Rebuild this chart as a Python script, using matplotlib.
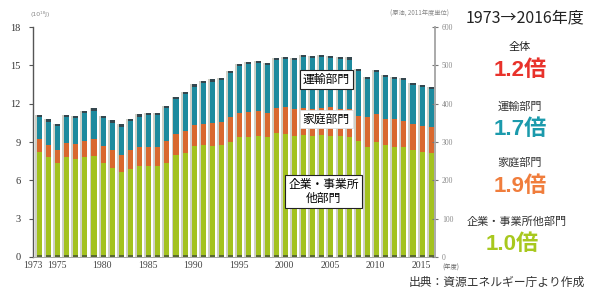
import numpy as np
import matplotlib
matplotlib.use("Agg")
import matplotlib.pyplot as plt
from matplotlib.transforms import ScaledTranslation

years = list(range(1973, 2017))

# stacked tops (10^18 J)
total = [11.10, 10.78, 10.44, 11.15, 11.04, 11.43, 11.64, 11.04, 10.70, 10.39,
         10.83, 11.17, 11.30, 11.30, 11.85, 12.55, 12.95, 13.52, 13.78, 13.91,
         14.04, 14.57, 15.09, 15.25, 15.37, 15.22, 15.61, 15.69, 15.56, 15.80,
         15.74, 15.82, 15.74, 15.69, 15.63, 14.70, 14.12, 14.64, 14.25, 14.12,
         14.04, 13.65, 13.47, 13.30]
home_top = [9.25, 8.77, 8.38, 8.95, 8.82, 9.11, 9.21, 8.69, 8.38, 7.99,
            8.38, 8.59, 8.64, 8.59, 9.08, 9.61, 9.89, 10.34, 10.42, 10.47,
            10.60, 10.94, 11.30, 11.38, 11.46, 11.25, 11.64, 11.72, 11.55, 11.70,
            11.60, 11.70, 11.75, 11.60, 11.55, 11.05, 10.92, 11.20, 10.81, 10.78,
            10.65, 10.39, 10.26, 10.15]
industry = [8.20, 7.81, 7.34, 7.81, 7.67, 7.81, 7.91, 7.39, 6.99, 6.68,
            6.87, 7.15, 7.15, 7.10, 7.39, 7.99, 8.17, 8.69, 8.77, 8.69,
            8.77, 9.03, 9.37, 9.42, 9.50, 9.37, 9.68, 9.60, 9.50, 9.55,
            9.50, 9.55, 9.45, 9.45, 9.40, 9.10, 8.64, 9.03, 8.77, 8.64,
            8.59, 8.38, 8.25, 8.15]

household = [h - i for h, i in zip(home_top, industry)]
transport = [t - h for t, h in zip(total, home_top)]

left_ticks = [0, 3, 6, 9, 12, 15, 18]
right_ticks = [0, 100, 200, 300, 400, 500, 600]
xlabel_years = [1973, 1975, 1980, 1985, 1990, 1995, 2000, 2005, 2010, 2015]

GREEN = "#a3c21f"
ORANGE = "#d9682e"
TEAL = "#1d8a9e"
CAP = "#34474f"
SIDE = "#cfd0c6"

JP = ["Noto Sans CJK JP", "DejaVu Sans"]
NUM = ["Liberation Sans", "Noto Sans CJK JP"]

W, H = 589, 295
fig = plt.figure(figsize=(W / 100, H / 100), dpi=100)
ax = fig.add_axes([33 / W, 1 - 257 / H, (435 - 33) / W, (257 - 27) / H])

x = np.array(years, dtype=float)
ind = np.array(industry)
hh = np.array(household)
tr = np.array(transport)
tot = ind + hh + tr

# grey side strip, then the coloured stack
ax.bar(x - 0.28, tot, width=0.22, color=SIDE, linewidth=0, zorder=1)
ax.bar(x + 0.1, ind, width=0.56, color=GREEN, linewidth=0, zorder=2)
ax.bar(x + 0.1, hh, width=0.56, bottom=ind, color=ORANGE, linewidth=0, zorder=2)
ax.bar(x + 0.1, tr - 0.18, width=0.56, bottom=ind + hh, color=TEAL, linewidth=0, zorder=2)
ax.bar(x + 0.1, 0.18, width=0.56, bottom=tot - 0.18, color=CAP, linewidth=0, zorder=2)
ax.bar(x + 0.1, 0.12, width=0.56, bottom=0, color="#5a6a30", linewidth=0, zorder=3)

ax.set_xlim(1973 - 0.6, 2016 + 0.52)
ax.set_ylim(0, 18)
ax.set_yticks(left_ticks)
ax.set_yticklabels([str(v) for v in left_ticks], family="Liberation Serif",
                   fontsize=7.5, color="#333333")
ax.set_xticks(xlabel_years)
ax.set_xticklabels([str(v) for v in xlabel_years], family="Liberation Serif",
                   fontsize=7, color="#444444")
ax.tick_params(axis="x", length=0, pad=3)
ax.tick_params(axis="y", length=3, width=0.8, color="#555555", pad=6)

# nudge the first year label left so it clears 1975
first = ax.get_xticklabels()[0]
first.set_transform(first.get_transform() + ScaledTranslation(-4 / 72, 0, fig.dpi_scale_trans))

ax.spines["top"].set_visible(False)
ax.spines["left"].set_color("#555555")
ax.spines["left"].set_linewidth(1.0)
ax.spines["bottom"].set_color("#999999")
ax.spines["bottom"].set_linewidth(0.6)
ax.spines["right"].set_color("#aaaaaa")
ax.spines["right"].set_linewidth(1.2)

ax2 = ax.twinx()
ax2.set_ylim(0, 600)
ax2.set_yticks(right_ticks)
ax2.set_yticklabels([str(v) for v in right_ticks], fontsize=5.5, color="#888888",
                    family="Liberation Serif")
ax2.tick_params(axis="y", direction="inout", length=4, width=0.8, color="#777777", pad=3)
for s in ["top", "left", "bottom"]:
    ax2.spines[s].set_visible(False)
ax2.spines["right"].set_color("#aaaaaa")
ax2.spines["right"].set_linewidth(1.2)

# labels inside the plot
box = dict(boxstyle="square,pad=0.25", facecolor="white", edgecolor="#222222", linewidth=0.8)
ax.text(2004.6, 13.9, "運輸部門", family=JP, fontsize=8.5, ha="center", va="center",
        bbox=box, zorder=5)
ax.text(2004.6, 10.8, "家庭部門", family=JP, fontsize=8.5, ha="center", va="center",
        bbox=dict(boxstyle="square,pad=0.25", facecolor="white", edgecolor="#dddddd",
                  linewidth=0.6), zorder=5)
ax.text(2004.3, 5.1, "企業・事業所\n他部門", family=JP, fontsize=8.5, ha="center",
        va="center", linespacing=1.1, bbox=box, zorder=5)

def ftext(px, py, s, **kw):
    fig.text(px / W, 1 - py / H, s, **kw)

ftext(40, 14, "(10¹⁸J)", fontsize=4.5, color="#888888", ha="center", va="center")
ftext(420, 14, "(原油, 2011年度単位)", family=JP, fontsize=4.5, color="#888888",
      ha="center", va="center")
ftext(451, 268, "(年度)", family=JP, fontsize=4.5, color="#666666", ha="center", va="center")

ftext(525, 18, "1973→2016年度", family=JP, fontsize=11.5, color="#222222",
      ha="center", va="center")
ftext(520, 47, "全体", family=JP, fontsize=8, color="#222222", ha="center", va="center")
ftext(520, 70, "1.2倍", family=NUM, fontsize=16, fontweight="bold", color="#e8322b",
      ha="center", va="center")
ftext(520, 107, "運輸部門", family=JP, fontsize=8, color="#333333", ha="center", va="center")
ftext(520, 130, "1.7倍", family=NUM, fontsize=16, fontweight="bold", color="#1b9aac",
      ha="center", va="center")
ftext(520, 163, "家庭部門", family=JP, fontsize=8, color="#333333", ha="center", va="center")
ftext(520, 187, "1.9倍", family=NUM, fontsize=16, fontweight="bold", color="#f07d3c",
      ha="center", va="center")
ftext(517, 222, "企業・事業所他部門", family=JP, fontsize=8, color="#333333",
      ha="center", va="center")
ftext(512, 245, "1.0倍", family=NUM, fontsize=16, fontweight="bold", color="#a8c81e",
      ha="center", va="center")
ftext(497, 282, "出典：資源エネルギー庁より作成", family=JP, fontsize=8.5, color="#333333",
      ha="center", va="center")

fig.savefig("out.png", dpi=100)
